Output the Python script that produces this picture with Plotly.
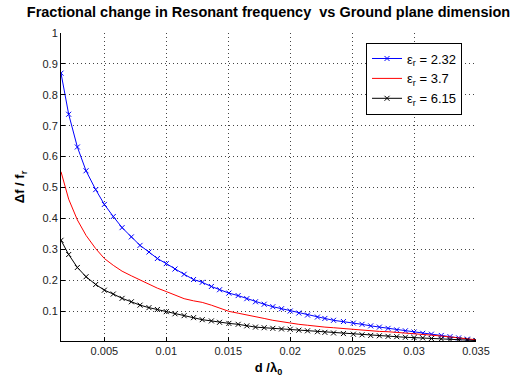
import plotly.graph_objects as go

x_vals = [0.0015, 0.00212, 0.00282, 0.00352, 0.0043, 0.005, 0.00572, 0.00643, 0.00718, 0.00788,
          0.0086, 0.00928, 0.0100, 0.0107, 0.01144, 0.0122, 0.0129, 0.01364, 0.0143, 0.01505,
          0.0158, 0.0165, 0.0172, 0.0179, 0.0186, 0.0193, 0.0200, 0.0207, 0.0214, 0.0222,
          0.0228, 0.0235, 0.0243, 0.0251, 0.0258, 0.0265, 0.0272, 0.0279, 0.0286, 0.0293,
          0.0300, 0.0307, 0.0314, 0.0322, 0.0329, 0.0336, 0.0343, 0.0350]

y_er_232 = [0.870, 0.737, 0.631, 0.554, 0.493, 0.445, 0.406, 0.370, 0.340, 0.3125,
            0.291, 0.270, 0.2535, 0.236, 0.219, 0.202, 0.193, 0.1795, 0.169, 0.158,
            0.150, 0.140, 0.130, 0.122, 0.114, 0.1075, 0.100, 0.0935, 0.087, 0.0805,
            0.076, 0.070, 0.066, 0.061, 0.057, 0.052, 0.048, 0.044, 0.039, 0.036,
            0.032, 0.028, 0.025, 0.021, 0.017, 0.013, 0.009, 0.005]

y_er_37 = [0.551, 0.462, 0.395, 0.345, 0.302, 0.270, 0.248, 0.229, 0.214, 0.200,
           0.186, 0.174, 0.163, 0.152, 0.140, 0.133, 0.128, 0.119, 0.109, 0.099,
           0.093, 0.088, 0.083, 0.076, 0.070, 0.065, 0.061, 0.057, 0.054, 0.050,
           0.048, 0.046, 0.043, 0.041, 0.039, 0.036, 0.034, 0.033, 0.031, 0.029,
           0.028, 0.025, 0.022, 0.019, 0.016, 0.013, 0.010, 0.007]

y_er_615 = [0.329, 0.283, 0.241, 0.211, 0.186, 0.1675, 0.155, 0.141, 0.130, 0.119,
            0.111, 0.105, 0.098, 0.091, 0.085, 0.0786, 0.072, 0.068, 0.0635, 0.060,
            0.057, 0.052, 0.048, 0.046, 0.044, 0.042, 0.041, 0.038, 0.036, 0.033,
            0.031, 0.029, 0.027, 0.025, 0.023, 0.021, 0.020, 0.018, 0.017, 0.015,
            0.014, 0.013, 0.011, 0.010, 0.008, 0.007, 0.006, 0.0045]

x_ticks = [0.005, 0.01, 0.015, 0.02, 0.025, 0.03, 0.035]
x_tick_text = ["0.005", "0.01", "0.015", "0.02", "0.025", "0.03", "0.035"]
y_ticks = [0.1, 0.2, 0.3, 0.4, 0.5, 0.6, 0.7, 0.8, 0.9, 1]
y_tick_text = ["0.1", "0.2", "0.3", "0.4", "0.5", "0.6", "0.7", "0.8", "0.9", "1"]

names = ["ε<sub>r</sub> = 2.32", "ε<sub>r</sub> = 3.7", "ε<sub>r</sub> = 6.15"]

FONT = "Liberation Sans, Arial, sans-serif"

fig = go.Figure()
fig.add_trace(go.Scatter(x=x_vals, y=y_er_232, mode="lines+markers", name=names[0],
                         line=dict(color="#0000ff", width=1),
                         marker=dict(symbol="x-thin", size=5, line=dict(color="#0000ff", width=1))))
fig.add_trace(go.Scatter(x=x_vals, y=y_er_37, mode="lines", name=names[1],
                         line=dict(color="#ff0000", width=1)))
fig.add_trace(go.Scatter(x=x_vals, y=y_er_615, mode="lines+markers", name=names[2],
                         line=dict(color="#000000", width=1),
                         marker=dict(symbol="x-thin", size=5, line=dict(color="#000000", width=1))))

fig.update_layout(
    width=525, height=384,
    margin=dict(l=61, r=49, t=33, b=41),
    paper_bgcolor="white", plot_bgcolor="white",
    font=dict(family=FONT, size=11, color="#222"),
    title=dict(text="<b>Fractional change in Resonant frequency\u00a0\u00a0vs Ground plane dimension</b>",
               x=0.5, xanchor="center", xref="paper", y=0.968, yanchor="middle",
               font=dict(family=FONT, size=14.5, color="black")),
    showlegend=True,
    legend=dict(x=0.735, y=0.969, xanchor="left", yanchor="top",
                bgcolor="white", bordercolor="black", borderwidth=1,
                font=dict(family=FONT, size=13, color="black"),
                tracegroupgap=0, itemwidth=30),
)

fig.update_xaxes(range=[0.0015, 0.035], tickvals=x_ticks, ticktext=x_tick_text,
                 showgrid=True, gridcolor="#444", griddash="1px,3px", gridwidth=1,
                 showline=True, linecolor="black", linewidth=1, mirror=False,
                 ticks="inside", ticklen=4, tickcolor="black", zeroline=False,
                 title=dict(text="<b>d /λ<sub>0</sub></b>", font=dict(family=FONT, size=13, color="black"),
                            standoff=6))
fig.update_yaxes(range=[0.003, 1], tickvals=y_ticks, ticktext=y_tick_text,
                 showgrid=True, gridcolor="#444", griddash="1px,3px", gridwidth=1,
                 showline=True, linecolor="black", linewidth=1, mirror=False,
                 ticks="inside", ticklen=4, tickcolor="black", zeroline=False,
                 title=dict(text="<b>Δf / f<sub>r</sub></b>", font=dict(family=FONT, size=13, color="black"),
                            standoff=14))

fig.write_html("out.html")
